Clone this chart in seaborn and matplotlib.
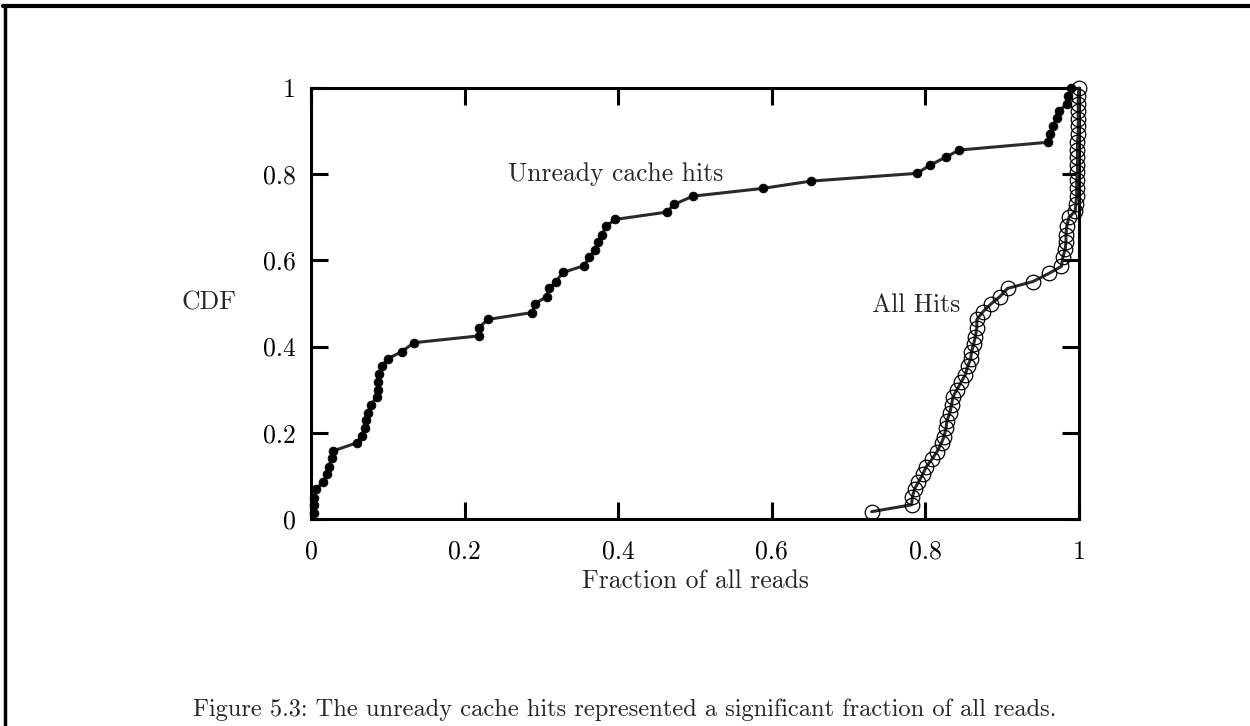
import matplotlib
matplotlib.use("Agg")
import matplotlib.pyplot as plt
from matplotlib.lines import Line2D
import seaborn as sns
import pandas as pd

# ---- data ----
unready_x = [0.004, 0.004, 0.004, 0.007, 0.016, 0.021, 0.023, 0.027, 0.029,
             0.060, 0.066, 0.070, 0.072, 0.074, 0.078, 0.086, 0.087, 0.087,
             0.089, 0.093, 0.100, 0.118, 0.134, 0.219, 0.219, 0.230, 0.288,
             0.292, 0.307, 0.310, 0.319, 0.328, 0.356, 0.362, 0.370, 0.374,
             0.379, 0.384, 0.396, 0.463, 0.473, 0.497, 0.588, 0.651, 0.789,
             0.806, 0.827, 0.844, 0.959, 0.962, 0.966, 0.972, 0.974, 0.984,
             0.986, 0.990]
unready_y = [0.014, 0.033, 0.049, 0.070, 0.086, 0.105, 0.121, 0.142, 0.158,
             0.177, 0.193, 0.212, 0.230, 0.247, 0.265, 0.284, 0.300, 0.319,
             0.337, 0.356, 0.372, 0.388, 0.409, 0.425, 0.444, 0.463, 0.479,
             0.500, 0.516, 0.535, 0.551, 0.572, 0.588, 0.607, 0.623, 0.642,
             0.660, 0.679, 0.695, 0.712, 0.730, 0.749, 0.767, 0.784, 0.802,
             0.821, 0.840, 0.856, 0.874, 0.893, 0.912, 0.930, 0.947, 0.963,
             0.981, 1.000]

allhits_x = [0.730, 0.782, 0.783, 0.786, 0.791, 0.797, 0.801, 0.809, 0.815,
             0.821, 0.824, 0.827, 0.828, 0.832, 0.834, 0.836, 0.841, 0.847,
             0.852, 0.855, 0.859, 0.860, 0.863, 0.865, 0.867, 0.867, 0.875,
             0.886, 0.897, 0.907, 0.940, 0.961, 0.977, 0.979, 0.982, 0.983,
             0.983, 0.984, 0.987, 0.995, 0.996, 0.997, 0.997, 0.997, 0.998,
             0.998, 0.998, 0.998, 0.998, 0.999, 0.999, 0.999, 0.999, 0.999,
             0.999, 1.000]
allhits_y = [0.017, 0.033, 0.051, 0.070, 0.086, 0.105, 0.121, 0.140, 0.156,
             0.177, 0.190, 0.212, 0.228, 0.247, 0.265, 0.284, 0.300, 0.319,
             0.335, 0.354, 0.372, 0.388, 0.407, 0.423, 0.444, 0.463, 0.481,
             0.500, 0.516, 0.535, 0.551, 0.570, 0.586, 0.607, 0.626, 0.642,
             0.660, 0.679, 0.700, 0.714, 0.732, 0.750, 0.768, 0.786, 0.804,
             0.821, 0.839, 0.857, 0.875, 0.893, 0.911, 0.929, 0.946, 0.964,
             0.982, 1.000]

tick_vals = [0, 0.2, 0.4, 0.6, 0.8, 1]
tick_labels = ["0", "0.2", "0.4", "0.6", "0.8", "1"]

unready_label = "Unready cache hits"
allhits_label = "All Hits"
x_title = "Fraction of all reads"
y_title = "CDF"
caption = "Figure 5.3: The unready cache hits represented a significant fraction of all reads."

# ---- style ----
sns.set_style("ticks")
plt.rcParams["font.family"] = ["cmr10", "DejaVu Serif"]
plt.rcParams["mathtext.fontset"] = "cm"
plt.rcParams["axes.formatter.use_mathtext"] = True
FS = 18.5
CAP_FS = 17.6

fig = plt.figure(figsize=(12.5, 7.26), dpi=100)
fig.patch.set_facecolor("white")
W, H = 1250, 726
left, right, top, bottom = 311, 1079, 88, 519
ax = fig.add_axes([left / W, 1 - bottom / H, (right - left) / W, (bottom - top) / H])

df_u = pd.DataFrame({"x": unready_x, "y": unready_y})
df_a = pd.DataFrame({"x": allhits_x, "y": allhits_y})

sns.lineplot(data=df_u, x="x", y="y", ax=ax, sort=False, estimator=None,
             color="#2a2a2a", linewidth=2.2, marker="o", markersize=6.4,
             markerfacecolor="black", markeredgecolor="black", markeredgewidth=0.5,
             clip_on=False, zorder=3)
sns.lineplot(data=df_a, x="x", y="y", ax=ax, sort=False, estimator=None,
             color="#2a2a2a", linewidth=2.2, marker="o", markersize=10.5,
             markerfacecolor="none", markeredgecolor="black", markeredgewidth=0.9,
             clip_on=False, zorder=3)

ax.set_xlim(0, 1)
ax.set_ylim(0, 1)
ax.set_xticks(tick_vals)
ax.set_xticklabels(tick_labels)
ax.set_yticks(tick_vals)
ax.set_yticklabels(tick_labels)
ax.tick_params(direction="in", top=True, right=True, length=12, width=2.2,
               labelsize=FS, pad=11, colors="black")
ax.tick_params(axis="x", pad=15)
for s in ax.spines.values():
    s.set_linewidth(2.2)
    s.set_color("black")
    s.set_visible(True)

ax.set_xlabel(x_title, fontsize=FS, labelpad=4)
ax.set_ylabel("")
fig.text(209 / W, 1 - 303 / H, y_title, fontsize=FS, ha="center", va="center")

ax.text(0.256, 0.80, unready_label, fontsize=FS, ha="left", va="center")
ax.text(0.730, 0.497, allhits_label, fontsize=FS, ha="left", va="center")

fig.text(625 / W, 1 - 710 / H, caption, fontsize=CAP_FS, ha="center", va="center")

# page frame (top and left edges)
fig.add_artist(Line2D([3 / W, 1], [1 - 6 / H, 1 - 6 / H], transform=fig.transFigure,
                      color="black", linewidth=3.0))
fig.add_artist(Line2D([4.5 / W, 4.5 / W], [0, 1 - 6 / H], transform=fig.transFigure,
                      color="black", linewidth=2.5))

fig.savefig("out.png", dpi=100, facecolor="white")
